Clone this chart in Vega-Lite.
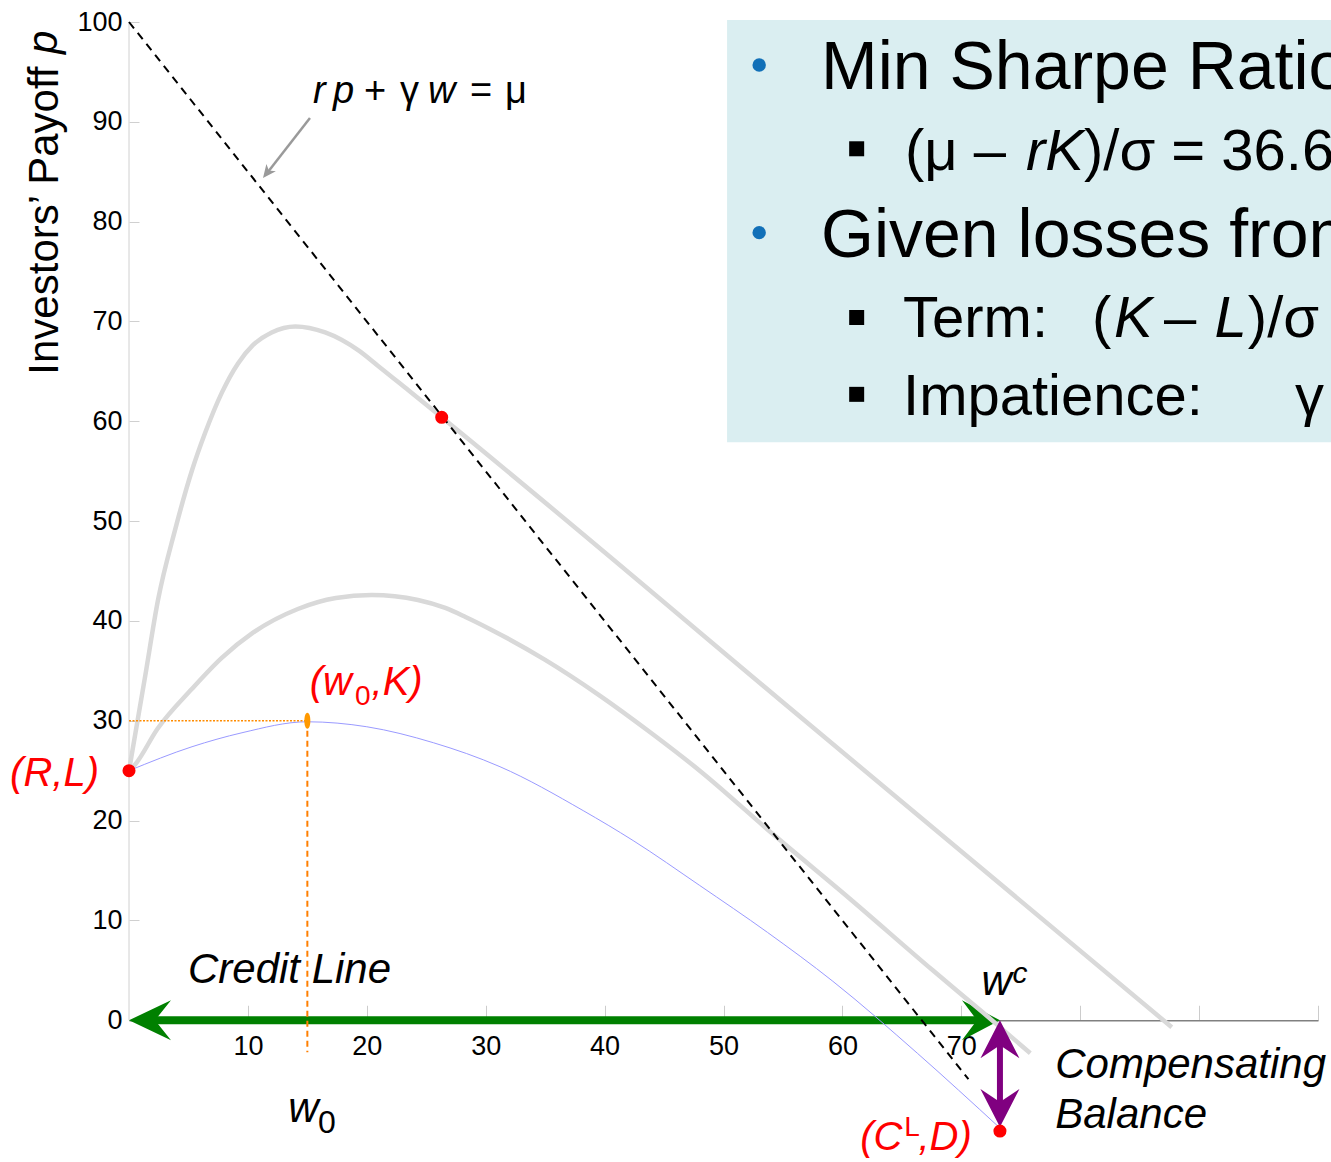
{
  "$schema": "https://vega.github.io/schema/vega-lite/v6.json",
  "width": 1189,
  "height": 1138,
  "autosize": {"type": "none"},
  "padding": {"left": 129, "top": 22, "right": 13, "bottom": 2},
  "background": "white",
  "config": {"font": "Liberation Sans", "view": {"stroke": null}},
  "datasets": {
    "box": [{"w": 50.3, "w2": 101.5, "p": 100.2, "p2": 57.9}],
    "ydomain": [{"w": 0, "p": 0, "p2": 100}],
    "curveA": [
      {"w": 0, "p": 25}, {"w": 1.35, "p": 34.4}, {"w": 2.44, "p": 42.1}, {"w": 3.87, "p": 49.1},
      {"w": 5.3, "p": 55.1}, {"w": 6.39, "p": 58.8}, {"w": 7.82, "p": 62.9}, {"w": 9.17, "p": 65.8},
      {"w": 10.4, "p": 67.6}, {"w": 12.0, "p": 68.9}, {"w": 14.0, "p": 69.5}, {"w": 16.5, "p": 68.9},
      {"w": 19.3, "p": 67.1}, {"w": 20.9, "p": 65.6}, {"w": 23.5, "p": 63.1}, {"w": 26.3, "p": 60.4},
      {"w": 57.0, "p": 29.85}, {"w": 87.7, "p": -0.7}
    ],
    "curveB": [
      {"w": 0, "p": 25}, {"w": 0.5, "p": 25.6}, {"w": 2.4, "p": 29.2}, {"w": 5.3, "p": 33.2},
      {"w": 7.8, "p": 36.3}, {"w": 10.4, "p": 38.8}, {"w": 14.2, "p": 41.2}, {"w": 17.4, "p": 42.3},
      {"w": 20.4, "p": 42.6}, {"w": 24.3, "p": 42.1}, {"w": 26.6, "p": 41.3}, {"w": 28.3, "p": 40.4},
      {"w": 30.5, "p": 39.1}, {"w": 35.0, "p": 36.1}, {"w": 39.5, "p": 32.6}, {"w": 44.0, "p": 28.7},
      {"w": 48.0, "p": 25.0}, {"w": 54.2, "p": 18.6}, {"w": 60.6, "p": 12.2}, {"w": 67.6, "p": 5.0},
      {"w": 71.8, "p": 0.8}, {"w": 75.8, "p": -3.3}
    ],
    "curveC": [
      {"w": 0, "p": 25}, {"w": 5.3, "p": 27.4}, {"w": 9.5, "p": 28.8}, {"w": 15.0, "p": 29.9},
      {"w": 20.0, "p": 29.4}, {"w": 25.6, "p": 27.8}, {"w": 31.2, "p": 25.4}, {"w": 38.2, "p": 21.0},
      {"w": 42.4, "p": 18.0}, {"w": 48.0, "p": 13.5}, {"w": 53.7, "p": 8.8}, {"w": 59.2, "p": 3.9},
      {"w": 66.3, "p": -3.3}, {"w": 73.25, "p": -10.8}
    ],
    "budget": [{"w": 0, "p": 100}, {"w": 70.6, "p": -5.9}],
    "greenShaft": [{"w": 1, "w2": 72.5, "p": 0}],
    "greenLeftHead": [{"w": 0, "p": 0}],
    "greenRightHead": [{"w": 73.25, "p": 0}],
    "purpleShaft": [{"w": 73.25, "p": -1.5, "p2": -9.2}],
    "purpleTop": [{"w": 73.25, "p": 0}],
    "purpleBottom": [{"w": 73.25, "p": -10.7}],
    "orangeH": [{"w": 0, "w2": 15, "p": 30}],
    "orangeV": [{"w": 15, "p": 30, "p2": -3.2}],
    "redDots": [{"w": 0, "p": 25}, {"w": 26.3, "p": 60.4}, {"w": 73.25, "p": -11.1}],
    "w0K": [{"w": 15, "p": 30}],
    "pointerLine": [{"w": 15.22, "p": 90.38, "w2": 11.7, "p2": 85.0}],
    "pointerHead": [{"w": 11.27, "p": 84.37}],
    "bulletsBlue": [{"w": 53.0, "p": 95.7}, {"w": 53.0, "p": 78.9}],
    "bulletsSquare": [{"w": 61.2, "p": 87.3}, {"w": 61.2, "p": 70.4}, {"w": 61.2, "p": 62.7}],
    "boxMain": [
      {"t": "Min Sharpe Ratio", "w": 58.2, "p": 93.3},
      {"t": "Given losses from", "w": 58.2, "p": 76.45}
    ],
    "boxSub": [
      {"t": "(μ – ", "w": 65.26, "p": 85.17},
      {"t": ")/σ = 36.6%", "w": 80.32, "p": 85.17},
      {"t": "Term:", "w": 65.1, "p": 68.44},
      {"t": "(", "w": 80.99, "p": 68.44},
      {"t": "–", "w": 87.05, "p": 68.44},
      {"t": ")/σ", "w": 94.1, "p": 68.44},
      {"t": "Impatience:", "w": 65.1, "p": 60.62},
      {"t": "γ", "w": 98.07, "p": 60.62}
    ],
    "boxSubItalic": [
      {"t": "rK", "w": 75.44, "p": 85.17},
      {"t": "K", "w": 82.84, "p": 68.44},
      {"t": "L", "w": 91.3, "p": 68.44}
    ],
    "redMain": [
      {"t": "(R,L)", "w": -10.0, "p": 23.5},
      {"t": "(w", "w": 15.2, "p": 32.6},
      {"t": ",K)", "w": 20.4, "p": 32.6},
      {"t": "(C", "w": 61.5, "p": -13.0},
      {"t": ",D)", "w": 66.4, "p": -13.0}
    ],
    "redSmall": [
      {"t": "0", "w": 19.0, "p": 31.6},
      {"t": "L", "w": 65.2, "p": -11.6}
    ],
    "blackItalic": [
      {"t": "Credit Line", "w": 4.96, "p": 3.7},
      {"t": "w", "w": 13.4, "p": -10.2},
      {"t": "w", "w": 71.7, "p": 2.5},
      {"t": "Compensating", "w": 77.9, "p": -5.8},
      {"t": "Balance", "w": 77.9, "p": -10.8}
    ],
    "blackSub": [{"t": "0", "w": 15.9, "p": -11.3}],
    "blackSup": [{"t": "c", "w": 74.3, "p": 3.7}],
    "formulaItalic": [
      {"t": "r", "w": 15.48, "p": 91.9},
      {"t": "p", "w": 17.16, "p": 91.9},
      {"t": "w", "w": 25.15, "p": 91.9}
    ],
    "formulaUpright": [
      {"t": "+", "w": 19.76, "p": 91.9},
      {"t": "γ", "w": 22.79, "p": 91.9},
      {"t": "=", "w": 28.68, "p": 91.9},
      {"t": "μ", "w": 31.62, "p": 91.9}
    ],
    "yTitleP": [{"t": "p", "w": -6.06, "p": 96.8}]
  },
  "encoding": {
    "x": {
      "field": "w", "type": "quantitative",
      "scale": {"domain": [0, 100], "nice": false, "zero": false},
      "axis": {
        "orient": "bottom", "offset": -139.75, "title": null,
        "values": [10, 20, 30, 40, 50, 60, 70, 80, 90, 100],
        "labelExpr": "datum.value <= 70 ? datum.label : ''",
        "domainColor": "#808080", "domainWidth": 1.5,
        "tickColor": "#cccccc", "tickSize": -15, "tickWidth": 1,
        "labelFontSize": 27, "labelColor": "black", "labelPadding": 28,
        "labelBaseline": "top", "grid": false
      }
    },
    "y": {
      "field": "p", "type": "quantitative",
      "scale": {"domain": [-14, 100], "nice": false, "zero": false},
      "axis": {
        "orient": "left", "domain": false, "grid": false,
        "values": [0, 10, 20, 30, 40, 50, 60, 70, 80, 90, 100],
        "tickColor": "#d0d0d0", "tickSize": -10, "tickWidth": 1,
        "labelFontSize": 27, "labelColor": "black", "labelPadding": 17,
        "title": "Investors’ Payoff",
        "titleFontSize": 42, "titleFontWeight": "normal", "titleColor": "black",
        "titleAngle": -90, "titleX": -72, "titleY": 44,
        "titleAlign": "right", "titleBaseline": "alphabetic"
      }
    }
  },
  "layer": [
    {"data": {"name": "box"}, "mark": {"type": "rect", "color": "#DAEEF1"},
     "encoding": {"x2": {"field": "w2"}, "y2": {"field": "p2"}}},
    {"data": {"name": "ydomain"}, "mark": {"type": "rule", "color": "#d0d0d0", "strokeWidth": 1},
     "encoding": {"y2": {"field": "p2"}}},
    {"data": {"name": "greenShaft"}, "mark": {"type": "rule", "color": "#008000", "strokeWidth": 8},
     "encoding": {"x2": {"field": "w2"}}},
    {"data": {"name": "greenLeftHead"},
     "mark": {"type": "point", "filled": true, "color": "#008000", "opacity": 1, "size": 1600, "strokeWidth": 0,
              "shape": "M0,0 L2.1,-1 L1.3,0 L2.1,1 Z"}},
    {"data": {"name": "greenRightHead"},
     "mark": {"type": "point", "filled": true, "color": "#008000", "opacity": 1, "size": 1600, "strokeWidth": 0,
              "shape": "M0,0 L-1.9,-1 L-1.15,0 L-1.9,1 Z"}},
    {"data": {"name": "curveA"}, "mark": {"type": "line", "color": "#d9d9d9", "strokeWidth": 4.5, "interpolate": "monotone"}},
    {"data": {"name": "curveB"}, "mark": {"type": "line", "color": "#d9d9d9", "strokeWidth": 4.5, "interpolate": "monotone"}},
    {"data": {"name": "curveC"}, "mark": {"type": "line", "color": "#9a9aff", "strokeWidth": 1, "interpolate": "monotone"}},
    {"data": {"name": "budget"}, "mark": {"type": "line", "color": "black", "strokeWidth": 2, "strokeDash": [8, 6]}},
    {"data": {"name": "orangeH"}, "mark": {"type": "rule", "color": "#FF8C00", "strokeWidth": 1.5, "strokeDash": [2, 1.5]},
     "encoding": {"x2": {"field": "w2"}}},
    {"data": {"name": "orangeV"}, "mark": {"type": "rule", "color": "#FF7F00", "strokeWidth": 2, "strokeDash": [6, 4]},
     "encoding": {"y2": {"field": "p2"}}},
    {"data": {"name": "purpleShaft"}, "mark": {"type": "rule", "color": "#800080", "strokeWidth": 6},
     "encoding": {"y2": {"field": "p2"}}},
    {"data": {"name": "purpleTop"},
     "mark": {"type": "point", "filled": true, "color": "#800080", "opacity": 1, "size": 1521, "strokeWidth": 0,
              "shape": "M0,0 L-1,1.95 L0,1.28 L1,1.95 Z"}},
    {"data": {"name": "purpleBottom"},
     "mark": {"type": "point", "filled": true, "color": "#800080", "opacity": 1, "size": 1521, "strokeWidth": 0,
              "shape": "M0,0 L-1,-1.95 L0,-1.28 L1,-1.95 Z"}},
    {"data": {"name": "redDots"},
     "mark": {"type": "point", "filled": true, "color": "#FF0000", "opacity": 1, "size": 170, "strokeWidth": 0, "shape": "circle"}},
    {"data": {"name": "w0K"},
     "mark": {"type": "point", "filled": true, "color": "#FF9900", "opacity": 1, "size": 256, "strokeWidth": 0,
              "shape": "M0,-1 C0.5,-1 0.5,1 0,1 C-0.5,1 -0.5,-1 0,-1 Z"}},
    {"data": {"name": "pointerLine"}, "mark": {"type": "rule", "color": "#9a9a9a", "strokeWidth": 2.5},
     "encoding": {"x2": {"field": "w2"}, "y2": {"field": "p2"}}},
    {"data": {"name": "pointerHead"},
     "mark": {"type": "point", "filled": true, "color": "#9a9a9a", "opacity": 1, "size": 144, "strokeWidth": 0, "angle": 218,
              "shape": "M0,0 L-1,2.2 L0,1.6 L1,2.2 Z"}},
    {"data": {"name": "bulletsBlue"},
     "mark": {"type": "point", "filled": true, "color": "#1170B8", "opacity": 1, "size": 180, "strokeWidth": 0, "shape": "circle"}},
    {"data": {"name": "bulletsSquare"},
     "mark": {"type": "point", "filled": true, "color": "black", "opacity": 1, "size": 225, "strokeWidth": 0, "shape": "square"}},
    {"data": {"name": "boxMain"},
     "mark": {"type": "text", "fontSize": 68, "color": "black", "align": "left", "baseline": "alphabetic"},
     "encoding": {"text": {"field": "t"}}},
    {"data": {"name": "boxSub"},
     "mark": {"type": "text", "fontSize": 58, "color": "black", "align": "left", "baseline": "alphabetic"},
     "encoding": {"text": {"field": "t"}}},
    {"data": {"name": "boxSubItalic"},
     "mark": {"type": "text", "fontSize": 58, "fontStyle": "italic", "color": "black", "align": "left", "baseline": "alphabetic"},
     "encoding": {"text": {"field": "t"}}},
    {"data": {"name": "redMain"},
     "mark": {"type": "text", "fontSize": 40, "fontStyle": "italic", "color": "#FF0000", "align": "left", "baseline": "alphabetic"},
     "encoding": {"text": {"field": "t"}}},
    {"data": {"name": "redSmall"},
     "mark": {"type": "text", "fontSize": 28, "color": "#FF0000", "align": "left", "baseline": "alphabetic"},
     "encoding": {"text": {"field": "t"}}},
    {"data": {"name": "blackItalic"},
     "mark": {"type": "text", "fontSize": 42, "fontStyle": "italic", "color": "black", "align": "left", "baseline": "alphabetic"},
     "encoding": {"text": {"field": "t"}}},
    {"data": {"name": "blackSub"},
     "mark": {"type": "text", "fontSize": 32, "color": "black", "align": "left", "baseline": "alphabetic"},
     "encoding": {"text": {"field": "t"}}},
    {"data": {"name": "blackSup"},
     "mark": {"type": "text", "fontSize": 30, "fontStyle": "italic", "color": "black", "align": "left", "baseline": "alphabetic"},
     "encoding": {"text": {"field": "t"}}},
    {"data": {"name": "formulaItalic"},
     "mark": {"type": "text", "fontSize": 38, "fontStyle": "italic", "color": "black", "align": "left", "baseline": "alphabetic"},
     "encoding": {"text": {"field": "t"}}},
    {"data": {"name": "formulaUpright"},
     "mark": {"type": "text", "fontSize": 38, "color": "black", "align": "left", "baseline": "alphabetic"},
     "encoding": {"text": {"field": "t"}}},
    {"data": {"name": "yTitleP"},
     "mark": {"type": "text", "fontSize": 42, "fontStyle": "italic", "color": "black", "align": "left", "baseline": "alphabetic", "angle": -90},
     "encoding": {"text": {"field": "t"}}}
  ]
}
